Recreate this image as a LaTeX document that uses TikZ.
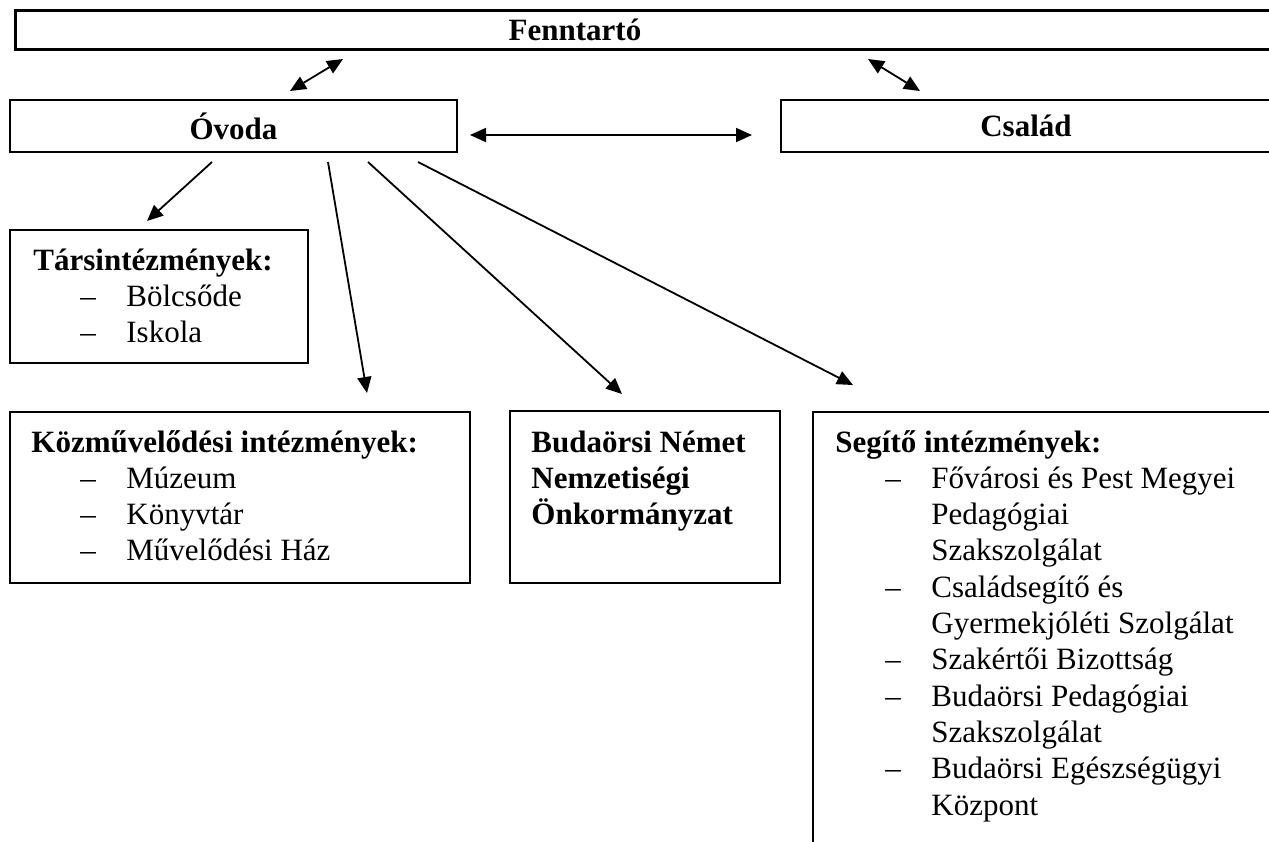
\documentclass[tikz,border=0pt]{standalone}
\usepackage{fontspec}
\setmainfont{Liberation Serif}
\usetikzlibrary{arrows.meta}
\newcommand\txtsize{\fontsize{15.5}{18.15}\selectfont}
\tikzset{
  box/.style={draw=black, line width=1pt, inner sep=0pt},
  topbox/.style={box, line width=1.5pt},
  midbox/.style={box, line width=1.2pt, font=\txtsize\bfseries},
  head/.style={font=\txtsize\bfseries, anchor=base west, inner sep=0pt},
  item/.style={font=\txtsize, anchor=base west, inner sep=0pt},
  link/.style={draw=black, line width=0.9pt, -{Triangle[length=8pt,width=7pt]}},
  both/.style={link, {Triangle[length=8pt,width=7pt]}-{Triangle[length=8pt,width=7pt]}},
}

\begin{document}
\begin{tikzpicture}[x=0.5pt,y=-0.5pt]
  \clip (0,0) rectangle (1269,841);

  % top row
  \node[topbox, minimum width=642.5pt, minimum height=19.5pt] (fenntarto) at (657.5,29.5) {};
  \node[head, anchor=base] (fenntarto-t) at (575,40) {Fenntartó};
  \node[midbox, minimum width=223.5pt, minimum height=26pt] (ovoda) at (233.5,126) {Óvoda};
  \node[midbox, minimum width=245pt, minimum height=26pt] (csalad) at (1026,126) {Család};

  % lower boxes
  \node[box, minimum width=149pt, minimum height=66.5pt] (tars) at (159,296.5) {};
  \node[box, minimum width=230pt, minimum height=85.5pt] (kozm) at (240,497.5) {};
  \node[box, minimum width=135pt, minimum height=86pt] (nemz) at (645,497) {};
  \node[box, minimum width=243.5pt, minimum height=244pt] (segito) at (1056.5,656) {};

  % texts
  \node[head] (tars-t) at (33,270) {Társintézmények:};
  \foreach \t [count=\i] in {Bölcsőde, Iskola}{
    \node[item] (tars-d\i) at (80,270+36.4*\i) {–};
    \node[item] (tars-\i) at (126,270+36.4*\i) {\t};
  }

  \node[head] (kozm-t) at (31,452) {Közművelődési intézmények:};
  \foreach \t [count=\i] in {Múzeum, Könyvtár, Művelődési Ház}{
    \node[item] (kozm-d\i) at (80,452+36.3*\i) {–};
    \node[item] (kozm-\i) at (126,452+36.3*\i) {\t};
  }

  \foreach \t [count=\i from 0] in {Budaörsi Német, Nemzetiségi, Önkormányzat}{
    \node[head] (nemz-\i) at (531,452+36.3*\i) {\t};
  }

  \node[head] (seg-t) at (835,452) {Segítő intézmények:};
  \foreach \d/\t [count=\i] in {1/Fővárosi és Pest Megyei, 0/Pedagógiai, 0/Szakszolgálat,
      1/Családsegítő és, 0/Gyermekjóléti Szolgálat, 1/Szakértői Bizottság,
      1/Budaörsi Pedagógiai, 0/Szakszolgálat, 1/Budaörsi Egészségügyi, 0/Központ}{
    \ifnum\d=1 \node[item] (seg-d\i) at (885,452+36.3*\i) {–};\fi
    \node[item] (seg-\i) at (931,452+36.3*\i) {\t};
  }

  % arrow ends
  \coordinate (fe-ov-a) at (290,91);
  \coordinate (fe-ov-b) at (343,59);
  \coordinate (fe-cs-a) at (868,59);
  \coordinate (fe-cs-b) at (920,91);
  \coordinate (ov-cs-a) at (470,135);
  \coordinate (ov-cs-b) at (752,135);
  \coordinate (ov-1) at (212,162);
  \coordinate (tars-in) at (147,221);
  \coordinate (ov-2) at (328,162);
  \coordinate (kozm-in) at (367,393);
  \coordinate (ov-3) at (368,162);
  \coordinate (nemz-in) at (622,394);
  \coordinate (ov-4) at (418,162);
  \coordinate (seg-in) at (853,385);

  \draw[both] (fe-ov-a) -- (fe-ov-b);
  \draw[both] (fe-cs-a) -- (fe-cs-b);
  \draw[both] (ov-cs-a) -- (ov-cs-b);
  \draw[link] (ov-1) -- (tars-in);
  \draw[link] (ov-2) -- (kozm-in);
  \draw[link] (ov-3) -- (nemz-in);
  \draw[link] (ov-4) -- (seg-in);
\end{tikzpicture}
\end{document}
